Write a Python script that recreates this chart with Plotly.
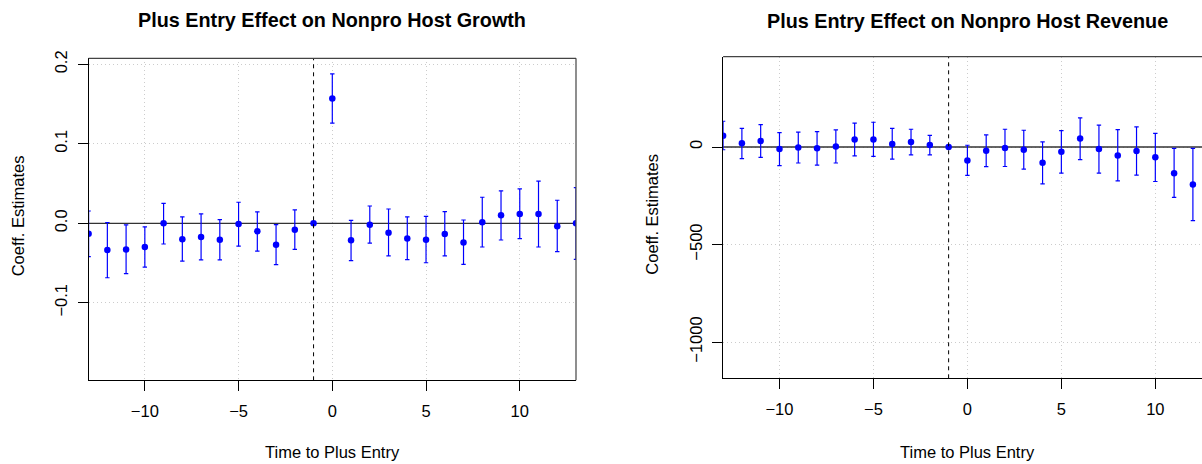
import plotly.graph_objects as go

# ---------------- data ----------------
periods_growth = list(range(-13, 14))
growth_est = [-0.013, -0.0336, -0.0328, -0.0298, 0.0, -0.020, -0.0172, -0.0206, -0.0008, -0.010, -0.027, -0.008, 0.0,
              0.157, -0.0214, -0.0017, -0.0118, -0.019, -0.0206, -0.0134, -0.024, 0.0013, 0.0101, 0.0118, 0.0118, -0.0038, 0.0]
growth_lo = [-0.042, -0.0685, -0.0634, -0.055, -0.026, -0.0475, -0.046, -0.046, -0.0286, -0.035, -0.052, -0.0328, 0.0,
             0.126, -0.047, -0.0248, -0.041, -0.0458, -0.0496, -0.041, -0.0517, -0.0298, -0.021, -0.0193, -0.0298, -0.0357, -0.0454]
growth_hi = [0.0155, 0.001, -0.002, -0.0046, 0.0252, 0.008, 0.012, 0.0046, 0.0265, 0.0143, -0.0017, 0.0168, 0.0,
             0.188, 0.0038, 0.0218, 0.018, 0.008, 0.0088, 0.0147, 0.0042, 0.0328, 0.0408, 0.0433, 0.053, 0.029, 0.045]

periods_revenue = list(range(-13, 13))
revenue_est = [58, 19, 31, -10, -2, -7, 3, 38, 38, 15, 26, 10, 0,
               -69, -19, -5, -14, -81, -24, 43, -10, -43, -21, -53, -134, -192]
revenue_lo = [-14, -60, -53, -96, -82, -93, -82, -46, -48, -62, -40, -40, 0,
              -146, -101, -100, -113, -189, -134, -65, -134, -174, -144, -177, -258, -378]
revenue_hi = [132, 96, 115, 74, 76, 79, 88, 122, 127, 96, 91, 60, 0,
              9, 62, 91, 86, 26, 84, 149, 112, 89, 103, 70, -7, -7]

x_ticks = [-10, -5, 0, 5, 10]
x_tick_text = ["\u221210", "\u22125", "0", "5", "10"]
growth_y_ticks = [-0.1, 0.0, 0.1, 0.2]
growth_y_text = ["\u22120.1", "0.0", "0.1", "0.2"]
revenue_y_ticks = [-1000, -500, 0]
revenue_y_text = ["\u22121000", "\u2212500", "0"]

titles = ["Plus Entry Effect on Nonpro Host Growth", "Plus Entry Effect on Nonpro Host Revenue"]
x_title = "Time to Plus Entry"
y_title = "Coeff. Estimates"
event_period = -1
x_span = [-13, 13]

# ---------------- figure ----------------
W, H = 1202, 464
FONT = "Liberation Sans, Arial, Helvetica, sans-serif"
BLUE = "#0000FF"


def px_x(p):
    return p / W


def px_y(p):
    return 1 - p / H


fig = go.Figure()


def add_series(xs, est, lo, hi, xa, ya):
    # horizontal reference line at zero (under the points)
    fig.add_trace(go.Scatter(x=x_span, y=[0, 0], mode="lines", xaxis=xa, yaxis=ya,
                             line=dict(color="#333333", width=1.3), hoverinfo="skip", showlegend=False))
    fig.add_trace(go.Scatter(
        x=xs, y=est, mode="markers", xaxis=xa, yaxis=ya,
        marker=dict(color=BLUE, size=6.5),
        error_y=dict(type="data", symmetric=False,
                     array=[h - e for h, e in zip(hi, est)],
                     arrayminus=[e - l for e, l in zip(est, lo)],
                     color=BLUE, thickness=1.2, width=2.2),
        showlegend=False, cliponaxis=True))


add_series(periods_growth, growth_est, growth_lo, growth_hi, "x", "y")
add_series(periods_revenue, revenue_est, revenue_lo, revenue_hi, "x2", "y2")

L_dom_x = [px_x(88.6), px_x(576.0)]
L_dom_y = [px_y(380.3), px_y(58.3)]
R_dom_x = [px_x(723.1), 1.0]
R_dom_y = [px_y(378.3), px_y(56.7)]

axis_common = dict(showline=True, linecolor="black", linewidth=1, ticks="outside", ticklen=10,
                   tickcolor="black", tickwidth=1, showgrid=True, gridcolor="#cccccc", griddash="1px,3px",
                   gridwidth=1, zeroline=False, tickfont=dict(family=FONT, size=16.5, color="black"))

fig.update_layout(
    width=W, height=H, margin=dict(l=0, r=0, t=0, b=0, autoexpand=False),
    paper_bgcolor="white", plot_bgcolor="white",
    xaxis=dict(domain=L_dom_x, range=x_span, tickvals=x_ticks, ticktext=x_tick_text,
               anchor="y", ticklabelstandoff=6, **axis_common),
    yaxis=dict(domain=L_dom_y, range=[-0.1975, 0.2076], tickvals=growth_y_ticks, ticktext=growth_y_text,
               anchor="x", tickangle=-90, ticklabelstandoff=4, **axis_common),
    xaxis2=dict(domain=R_dom_x, range=[-13, (1202 - 967.3) / 18.8], tickvals=x_ticks, ticktext=x_tick_text,
                anchor="y2", ticklabelstandoff=6, **axis_common),
    yaxis2=dict(domain=R_dom_y, range=[-1186, 463], tickvals=revenue_y_ticks, ticktext=revenue_y_text,
                anchor="x2", tickangle=-90, ticklabelstandoff=4, **axis_common),
)

shapes = []
for xa, ya in [("x", "y"), ("x2", "y2")]:
    shapes.append(dict(type="line", xref=xa, yref=ya + " domain", x0=event_period, x1=event_period, y0=0, y1=1,
                       line=dict(color="black", width=1, dash="4px,4px")))
    shapes.append(dict(type="line", xref=xa + " domain", yref=ya + " domain", x0=0, x1=1, y0=1, y1=1,
                       line=dict(color="#444444", width=1.2)))
shapes.append(dict(type="line", xref="x domain", yref="y domain", x0=1, x1=1, y0=0, y1=1,
                   line=dict(color="#444444", width=1.2)))
fig.update_layout(shapes=shapes)

ann = []
ann.append(dict(text="<b>%s</b>" % titles[0], x=px_x(332.3), y=px_y(19.5), xref="paper", yref="paper",
                xanchor="center", yanchor="middle", showarrow=False, font=dict(family=FONT, size=19.8, color="black")))
ann.append(dict(text="<b>%s</b>" % titles[1], x=px_x(967.4), y=px_y(20.5), xref="paper", yref="paper",
                xanchor="center", yanchor="middle", showarrow=False, font=dict(family=FONT, size=19.8, color="black")))
for cx in [332.3, 967.4]:
    ann.append(dict(text=x_title, x=px_x(cx), y=px_y(452), xref="paper", yref="paper",
                    xanchor="center", yanchor="middle", showarrow=False, font=dict(family=FONT, size=16.5, color="black")))
for cx, cy in [(18.3, 216), (651.7, 214)]:
    ann.append(dict(text=y_title, x=px_x(cx), y=px_y(cy), xref="paper", yref="paper", textangle=-90,
                    xanchor="center", yanchor="middle", showarrow=False, font=dict(family=FONT, size=16.5, color="black")))
fig.update_layout(annotations=ann)

fig.write_html("out.html", config={"displayModeBar": False},
               post_script="document.body.style.margin='0';document.body.style.overflow='hidden';")
